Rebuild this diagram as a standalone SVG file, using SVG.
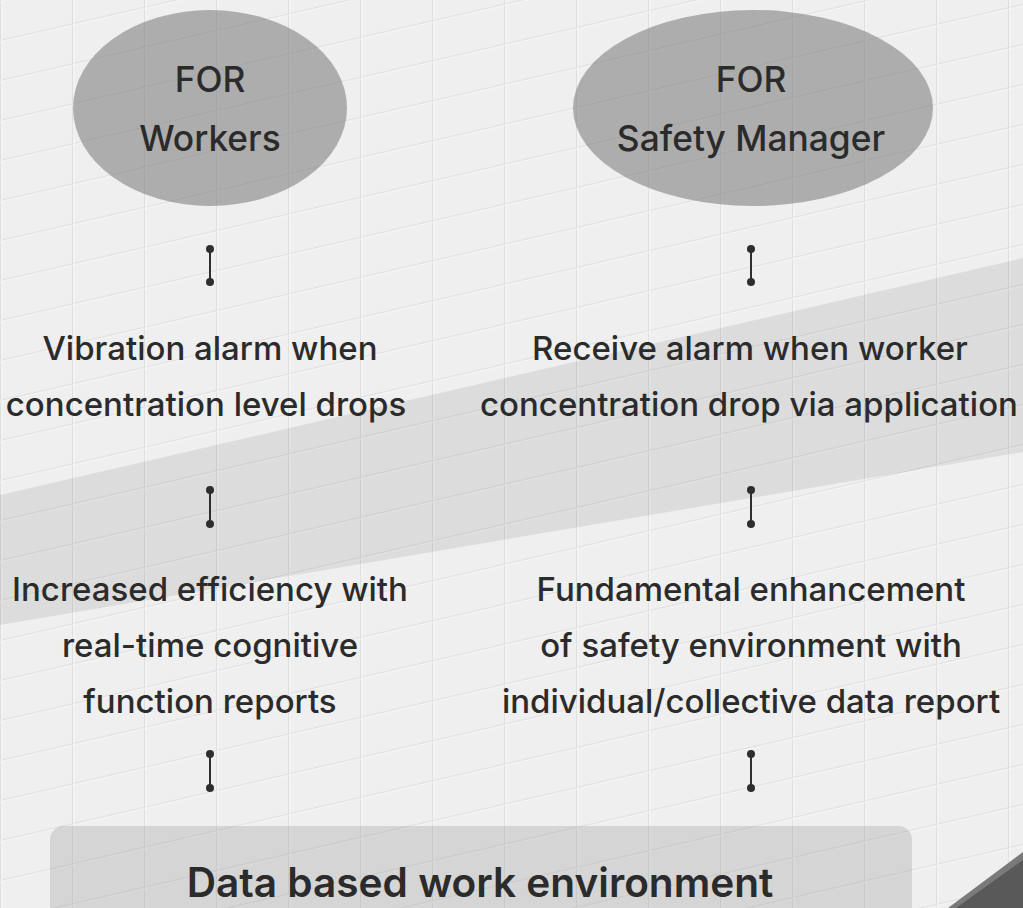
<svg xmlns="http://www.w3.org/2000/svg" width="1023" height="908" viewBox="0 0 1023 908">
  <defs>
    <pattern id="grid" width="72" height="40" patternUnits="userSpaceOnUse" patternTransform="skewY(-13)">
      <rect width="72" height="40" fill="none"/>
      <line x1="0" y1="0" x2="0" y2="40" stroke="#d4d4d4" stroke-width="2"/>
      <line x1="0" y1="0" x2="72" y2="0" stroke="#d4d4d4" stroke-width="2"/>
      <line x1="2" y1="0" x2="2" y2="40" stroke="#fafafa" stroke-width="1"/>
      <line x1="0" y1="2" x2="72" y2="2" stroke="#fafafa" stroke-width="1"/>
    </pattern>
    <marker id="dot" viewBox="0 0 10 10" refX="5" refY="5" markerWidth="8" markerHeight="8" markerUnits="userSpaceOnUse">
      <circle cx="5" cy="5" r="5" fill="#2e2e2e"/>
    </marker>
    <style>
      .t { font-family: Inter, "Noto Sans", "Liberation Sans", sans-serif; font-size: 33px; font-weight: 500; fill: #2b2b2b; text-anchor: middle; }
      .h { font-family: Inter, "Noto Sans", "Liberation Sans", sans-serif; font-size: 35.3px; font-weight: 500; fill: #2b2b2b; text-anchor: middle; }
      .b { font-family: Inter, "Noto Sans", "Liberation Sans", sans-serif; font-size: 40.6px; font-weight: 600; fill: #2b2b2b; text-anchor: middle; }
      .oval { fill: #777; fill-opacity: 0.55; }
      .conn { stroke: #2e2e2e; stroke-width: 2; fill: none; }
    </style>
  </defs>

  <!-- background -->
  <g id="background">
    <rect width="1023" height="908" fill="#efefef"/>
    <rect width="1023" height="908" fill="url(#grid)" opacity="0.6"/>
    <polygon points="0,495 1023,258 1023,452 0,625" fill="#000" fill-opacity="0.08"/>
    <polygon points="948,908 1023,852 1023,908" fill="#7a7a7a"/>
    <polygon points="956,908 1023,860 1023,908" fill="#595959"/>
  </g>

  <g id="node-workers">
    <ellipse class="oval" cx="210" cy="108" rx="137" ry="98"/>
    <text class="h" x="210" y="92">FOR</text>
    <text class="h" x="210" y="151">Workers</text>
  </g>

  <g id="node-safety-manager">
    <ellipse class="oval" cx="753" cy="108" rx="180" ry="98"/>
    <text class="h" x="751" y="92">FOR</text>
    <text class="h" x="751" y="151">Safety Manager</text>
  </g>

  <g id="node-vibration">
    <text class="t" x="210" y="360">Vibration alarm when</text>
    <text class="t" x="206" y="416">concentration level drops</text>
  </g>

  <g id="node-receive">
    <text class="t" x="750" y="360">Receive alarm when worker</text>
    <text class="t" x="749" y="416">concentration drop via application</text>
  </g>

  <g id="node-efficiency">
    <text class="t" x="210" y="601">Increased efficiency with</text>
    <text class="t" x="210" y="657">real-time cognitive</text>
    <text class="t" x="210" y="713">function reports</text>
  </g>

  <g id="node-fundamental">
    <text class="t" x="751" y="601">Fundamental enhancement</text>
    <text class="t" x="751" y="657">of safety environment with</text>
    <text class="t" x="751" y="713">individual/collective data report</text>
  </g>

  <g id="node-data">
    <rect x="50" y="826" width="862" height="110" rx="14" fill="#888" fill-opacity="0.25"/>
    <text class="b" x="480" y="897">Data based work environment</text>
  </g>

  <g id="connectors">
    <line class="conn" x1="210" y1="249" x2="210" y2="282" marker-start="url(#dot)" marker-end="url(#dot)"/>
    <line class="conn" x1="751" y1="249" x2="751" y2="282" marker-start="url(#dot)" marker-end="url(#dot)"/>
    <line class="conn" x1="210" y1="490" x2="210" y2="524" marker-start="url(#dot)" marker-end="url(#dot)"/>
    <line class="conn" x1="751" y1="490" x2="751" y2="524" marker-start="url(#dot)" marker-end="url(#dot)"/>
    <line class="conn" x1="210" y1="754" x2="210" y2="788" marker-start="url(#dot)" marker-end="url(#dot)"/>
    <line class="conn" x1="751" y1="754" x2="751" y2="788" marker-start="url(#dot)" marker-end="url(#dot)"/>
  </g>
</svg>
